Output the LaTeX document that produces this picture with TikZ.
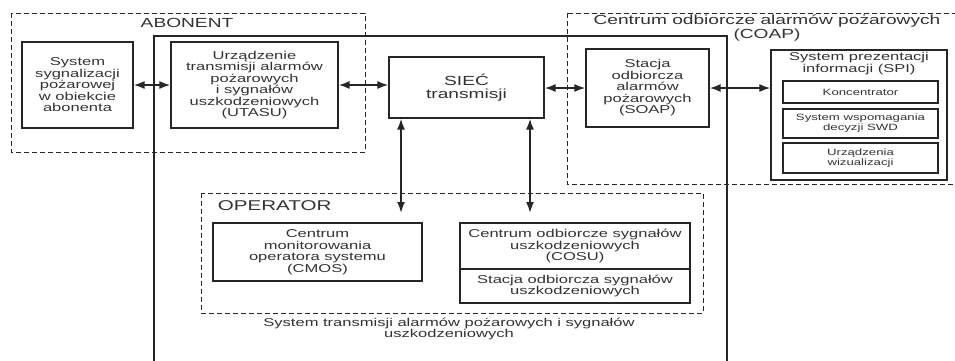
\documentclass[tikz,border=0pt]{standalone}
\usepackage{fontspec}
\setmainfont[FakeStretch=1.45]{Liberation Sans}
\usetikzlibrary{arrows.meta}

\newcommand{\txtbox}{\fontsize{11.4}{11.5}\selectfont}
\newcommand{\txttitle}{\fontsize{13.2}{11}\selectfont}
\newcommand{\txtnet}{\fontsize{13.2}{12.5}\selectfont}
\newcommand{\txtsmall}{\fontsize{9.1}{10}\selectfont}

\begin{document}
\begin{tikzpicture}[x=1pt, y=-1pt, line width=1.1pt, black!85,
  box/.style={draw, align=center, inner sep=0pt, font=\txtbox, text=black!80},
  group/.style={draw, dash pattern=on 5pt off 3pt, line width=1pt},
  link/.style={<->, line width=1.8pt, >={Latex[length=11pt,width=8pt]}}]

  \useasboundingbox (0,0) rectangle (955,360);
  \clip (0,0) rectangle (955,360);
  \fill[white] (0,0) rectangle (955,360);

  % groups
  \draw[group] (11,13) rectangle (365,152);
  \draw[group] (567,13) rectangle (975,184);
  \draw[group] (201,193) rectangle (703,313);
  \draw (154,380) -- (154,36) -- (727,36) -- (727,380);

  \node[font=\txttitle, text=black!80] (abonent) at (187,23) {ABONENT};
  \node[font=\txttitle, text=black!80, align=center] (coap) at (767,28)
    {Centrum odbiorcze alarmów pożarowych\\(COAP)};
  \node[font=\fontsize{14.2}{14}\selectfont, text=black!80, anchor=west] (operator) at (214,206) {OPERATOR};
  \node[font=\txtbox, text=black!80, align=center] (stacap) at (449,329)
    {System transmisji alarmów pożarowych i sygnałów\\uszkodzeniowych};

  % abonent
  \node[box, minimum width=111pt, minimum height=86pt] (sys) at (77.5,85)
    {System\\sygnalizacji\\pożarowej\\w obiekcie\\abonenta};
  \node[box, minimum width=167pt, minimum height=86pt] (utasu) at (254.5,85)
    {Urządzenie\\transmisji alarmów\\pożarowych\\i sygnałów\\uszkodzeniowych\\(UTASU)};

  % network
  \node[box, font=\txtnet, minimum width=155pt, minimum height=61pt] (siec) at (466.5,87.5)
    {SIEĆ\\transmisji};

  % coap
  \node[box, minimum width=123pt, minimum height=78pt] (soap) at (647.5,88)
    {Stacja\\odbiorcza\\alarmów\\pożarowych\\(SOAP)};
  \node[box, minimum width=176pt, minimum height=130pt] (spi) at (859,115) {};
  \node[font=\fontsize{11.4}{12}\selectfont, text=black!80, align=center] (spititle) at (859,64)
    {System prezentacji\\informacji (SPI)};
  \node[box, font=\txtsmall, minimum width=155pt, minimum height=22pt] (konc) at (860.5,92)
    {Koncentrator};
  \node[box, font=\txtsmall, minimum width=155pt, minimum height=29pt] (swd) at (860.5,123.5)
    {System wspomagania\\decyzji SWD};
  \node[box, font=\txtsmall, minimum width=155pt, minimum height=30pt] (wiz) at (860.5,158)
    {Urządzenia\\wizualizacji};

  % operator
  \node[box, minimum width=209pt, minimum height=58pt] (cmos) at (317.5,252)
    {Centrum\\monitorowania\\operatora systemu\\(CMOS)};
  \node[box, minimum width=230pt, minimum height=46pt] (cosu) at (575,246)
    {Centrum odbiorcze sygnałów\\uszkodzeniowych\\(COSU)};
  \node[box, minimum width=230pt, minimum height=34pt] (sosu) at (575,286)
    {Stacja odbiorcza sygnałów\\uszkodzeniowych};

  \coordinate (cmosin) at (401,213);
  \coordinate (cosuin) at (530,213);

  % connectors
  \draw[link] (sys.east) -- (utasu.west);
  \draw[link] (utasu.east) -- (utasu.east -| siec.west);
  \draw[link] (siec.east |- soap.west) -- (soap.west);
  \draw[link] (soap.east) -- (soap.east -| spi.west);
  \draw[link] (siec.south -| cmosin) -- (cmosin);
  \draw[link] (siec.south -| cosuin) -- (cosuin);

\end{tikzpicture}
\end{document}
